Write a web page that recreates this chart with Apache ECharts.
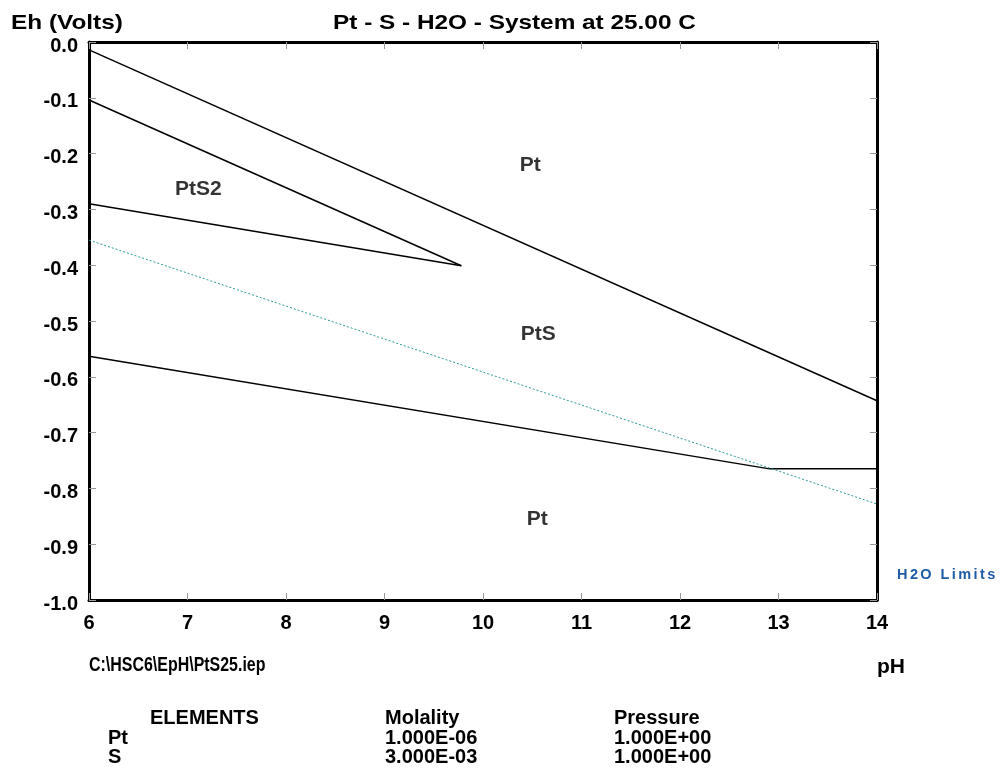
<!DOCTYPE html>
<html>
<head>
<meta charset="utf-8">
<title>Pt - S - H2O</title>
<script src="https://cdn.jsdelivr.net/npm/echarts@6/dist/echarts.min.js"></script>
<style>
  html, body { margin: 0; padding: 0; background: #fff; }
  #chart { width: 1004px; height: 783px; }
</style>
</head>
<body>
<div id="chart"></div>
<script>
// boundaries (pH, Eh)
const ptPtsUpper = [[6, -0.014], [14, -0.643]]
const pts2Upper = [[6, -0.104], [9.78, -0.401]]
const pts2Lower = [[6, -0.290], [9.78, -0.401]]
const ptsLower = [[6, -0.563], [12.91, -0.765], [14, -0.765]]
const h2oLimit = [[6, -0.355], [14, -0.828]]

// stability field labels
const fieldLabels = [
  [7.11, -0.263, 'PtS2'],
  [10.48, -0.22, 'Pt'],
  [10.56, -0.524, 'PtS'],
  [10.55, -0.855, 'Pt']
]

const xTicks = [6, 7, 8, 9, 10, 11, 12, 13, 14]
const yTicks = [0, -0.1, -0.2, -0.3, -0.4, -0.5, -0.6, -0.7, -0.8, -0.9, -1.0]

const elements = ['Pt', 'S']
const molality = ['1.000E-06', '3.000E-03']
const pressure = ['1.000E+00', '1.000E+00']

const font = 'Liberation Sans, Arial, sans-serif'

const chart = echarts.init(document.getElementById('chart'))

const boundary = (data, style) => ({
  type: 'line',
  data,
  symbol: 'none',
  silent: true,
  lineStyle: Object.assign({ color: '#000', width: 1.5 }, style)
})

// plain text helper, scaled around its left edge
const label = (text, x, y, size, opts) => Object.assign({
  type: 'text',
  x, y,
  scaleX: (opts && opts.scaleX) || 1,
  silent: true,
  style: {
    text,
    font: 'bold ' + size + 'px ' + font,
    fill: (opts && opts.fill) || '#000',
    verticalAlign: 'middle'
  }
})

const tableRows = []
elements.forEach((el, i) => {
  const y = 738 + i * 19.5
  tableRows.push(label(el, 108, y, 20))
  tableRows.push(label(molality[i], 385, y, 20))
  tableRows.push(label(pressure[i], 614, y, 20))
})

const axisCommon = {
  type: 'value',
  axisLine: { show: true, onZero: false, lineStyle: { color: '#000', width: 3 } },
  axisTick: { show: true, inside: true, length: 7, lineStyle: { color: '#999', width: 1 } },
  splitLine: { show: false }
}

chart.setOption({
  backgroundColor: '#fff',
  animation: false,
  grid: { left: 89, right: 127, top: 42, bottom: 183 },
  xAxis: [
    Object.assign({}, axisCommon, {
      min: 6, max: 14, interval: 1, position: 'bottom',
      axisLabel: {
        margin: 13, color: '#000', fontFamily: font, fontWeight: 'bold', fontSize: 20,
        customValues: xTicks
      }
    }),
    Object.assign({}, axisCommon, {
      min: 6, max: 14, interval: 1, position: 'top',
      axisLabel: { show: false }
    })
  ],
  yAxis: [
    Object.assign({}, axisCommon, {
      min: -1, max: 0, interval: 0.1, position: 'left',
      axisLabel: {
        margin: 11,
        customValues: yTicks,
        formatter: v => '{v|' + v.toFixed(1) + '}',
        rich: {
          v: { color: '#000', fontFamily: font, fontWeight: 'bold', fontSize: 20, padding: [8, 0, 0, 0] }
        }
      }
    }),
    Object.assign({}, axisCommon, {
      min: -1, max: 0, interval: 0.1, position: 'right',
      axisLabel: { show: false }
    })
  ],
  series: [
    boundary(ptPtsUpper),
    boundary(pts2Upper),
    boundary(pts2Lower),
    boundary(ptsLower),
    boundary(h2oLimit, { color: '#2a9a9a', width: 1, type: [2, 2] }),
    {
      type: 'scatter',
      data: fieldLabels,
      symbolSize: 0,
      silent: true,
      label: {
        show: true,
        position: 'inside',
        formatter: p => p.data[2],
        color: '#000',
        textBorderWidth: 0,
        fontFamily: font,
        fontWeight: 'bold',
        fontSize: 21
      }
    }
  ],
  graphic: [
    label('Eh (Volts)', 11, 23, 21, { scaleX: 1.16 }),
    label('Pt - S - H2O - System at 25.00 C', 333, 23, 21, { scaleX: 1.16 }),
    label('H\u20062\u2006O\u2006 \u2006L\u2006i\u2006m\u2006i\u2006t\u2006s', 897, 575, 14.5, { fill: '#1f5ca8' }),
    label('C:\\HSC6\\EpH\\PtS25.iep', 89, 665, 21, { scaleX: 0.76 }),
    label('pH', 877, 667, 21),
    label('ELEMENTS', 150, 718, 20),
    label('Molality', 385, 718, 20),
    label('Pressure', 614, 718, 20)
  ].concat(tableRows)
})
</script>
</body>
</html>
